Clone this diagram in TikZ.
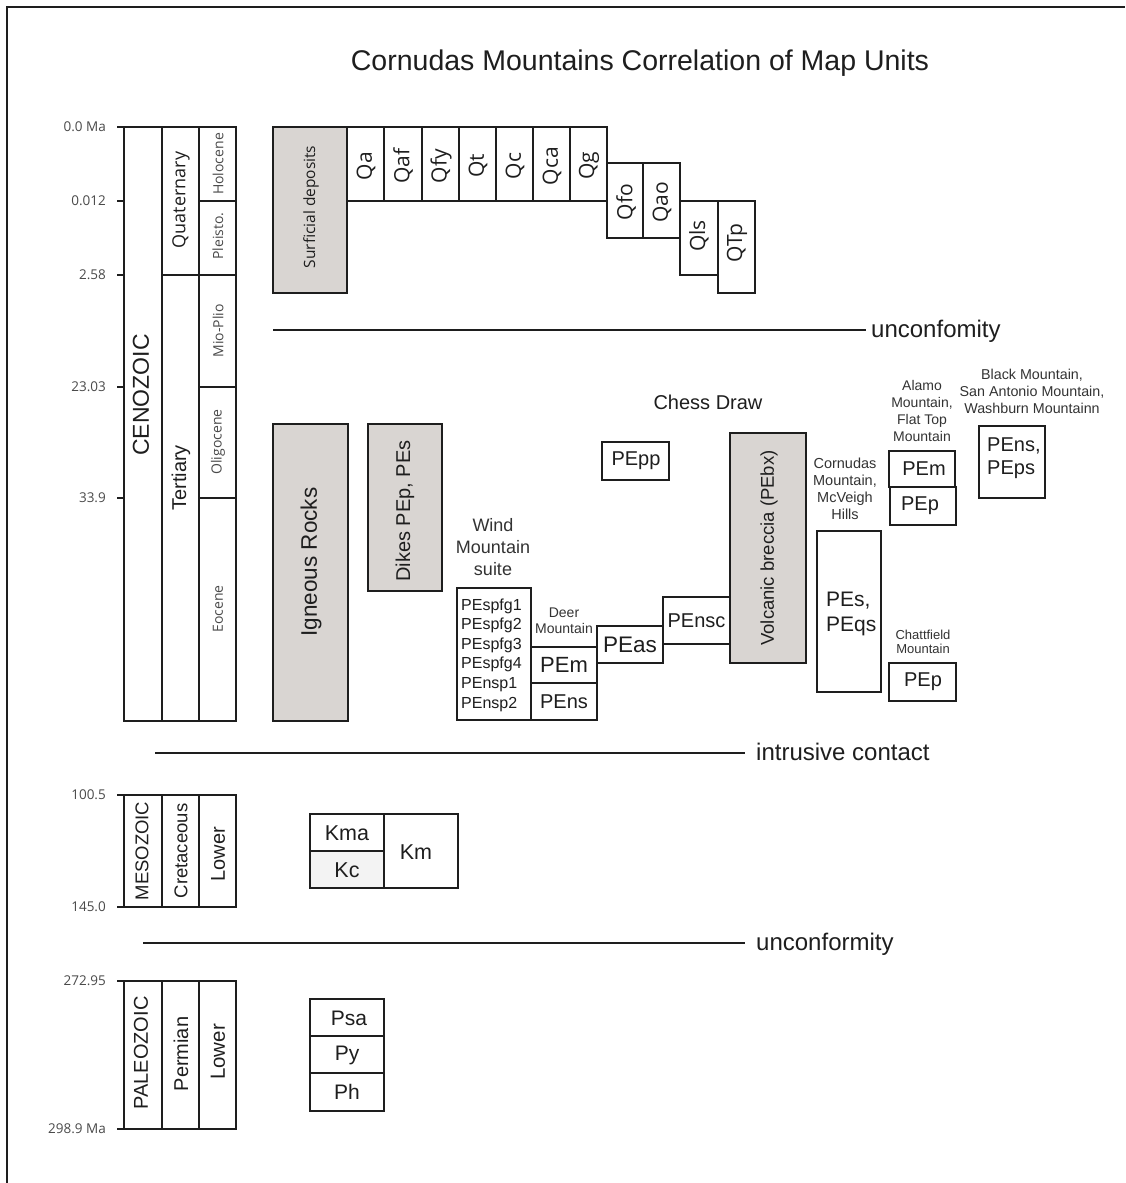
\documentclass[tikz,border=0pt]{standalone}
\usepackage{fontspec}
\setmainfont{Liberation Sans}
\newfontfamily\myr{Open Sans}
\definecolor{gfill}{HTML}{D9D5D2}
\definecolor{kcfill}{HTML}{F3F3F3}
\definecolor{tgray}{HTML}{4A4A4A}
\definecolor{ink}{HTML}{1E1E1E}
\newcommand\fz[2]{\fontsize{#1}{#2}\selectfont}
\begin{document}
\begin{tikzpicture}[x=1pt,y=-1pt,
  box/.style={draw=ink, line width=1.8pt},
  gbox/.style={box, fill=gfill},
  kbox/.style={box, fill=kcfill},
  lbl/.style={inner sep=0pt, text=ink},
  rl/.style={lbl, rotate=90},
  tick/.style={draw=ink, line width=1.5pt},
  tlab/.style={inner sep=0pt, anchor=east, text=tgray, font={\myr\fz{13.5}{16}}},
  ep/.style={rl, text=tgray, font={\myr\fz{14}{17}}},
  ql/.style={rl, font={\myr\fz{21}{25}}},
  pe/.style={lbl, font={\fz{20}{24}}},
  sm/.style={lbl, align=center, text=black!80},
  sep/.style={draw=ink, line width=1.7pt},
  seplab/.style={inner sep=0pt, anchor=base west, text=ink, font={\fz{24}{28}}}
]
\useasboundingbox (0,0) rectangle (1125,1183);
\fill[white] (0,0) rectangle (1125,1183);
% frame
\draw[draw=ink, line width=2pt] (7,1183) -- (7,7) -- (1125,7);
% title
\node[lbl, anchor=base, font={\fz{28.5}{32}}] (title) at (640,70) {Cornudas Mountains Correlation of Map Units};

% ---------- Cenozoic time column ----------
\draw[box] (124,127) rectangle (236,721);
\draw[box] (162,127) -- (162,721);
\draw[box] (199,127) -- (199,721);
\draw[box] (162,275) -- (236,275);
\draw[box] (199,201) -- (236,201);
\draw[box] (199,387) -- (236,387);
\draw[box] (199,498) -- (236,498);
\foreach \yy in {127,201,275,387,498} \draw[tick] (117,\yy) -- (124,\yy);
\node[tlab] (t0) at (106,127) {0.0 Ma};
\node[tlab] (t1) at (106,201) {0.012};
\node[tlab] (t2) at (106,275) {2.58};
\node[tlab] (t3) at (106,387) {23.03};
\node[tlab] (t4) at (106,498) {33.9};
\node[rl, font={\fz{23}{27}}] (ceno) at (141,395) {CENOZOIC};
\node[rl, font={\fz{20}{24}}] (tert) at (181,478) {Tertiary};
\node[rl, font={\myr\fz{18}{22}}] (quat) at (181,200) {Quaternary};
\node[ep] (holo) at (218,164) {Holocene};
\node[ep] (plei) at (218,236) {Pleisto.};
\node[ep] (miop) at (218,331) {Mio-Plio};
\node[ep] (olig) at (218,442) {Oligocene};
\node[ep] (eoc) at (218,609) {Eocene};

% ---------- Surficial deposits ----------
\draw[gbox] (273,127) rectangle (347,293);
\node[rl, font={\myr\fz{15.5}{19}}] (surf) at (311,207) {Surficial deposits};
\draw[box] (347,127) rectangle (384,201); \node[ql] (qa) at (366,166) {Qa};
\draw[box] (384,127) rectangle (422,201); \node[ql] (qaf) at (403,166) {Qaf};
\draw[box] (422,127) rectangle (459,201); \node[ql] (qfy) at (441,166) {Qfy};
\draw[box] (459,127) rectangle (496,201); \node[ql] (qt) at (478,166) {Qt};
\draw[box] (496,127) rectangle (533,201); \node[ql] (qc) at (515,166) {Qc};
\draw[box] (533,127) rectangle (570,201); \node[ql] (qca) at (552,166) {Qca};
\draw[box] (570,127) rectangle (607,201); \node[ql] (qg) at (589,166) {Qg};
\draw[box] (607,163) rectangle (643,238); \node[ql] (qfo) at (626,202) {Qfo};
\draw[box] (643,163) rectangle (680,238); \node[ql] (qao) at (662,202) {Qao};
\draw[box] (680,201) rectangle (718,275); \node[ql] (qls) at (699,236) {Qls};
\draw[box] (718,201) rectangle (755,293); \node[ql] (qtp) at (737,243) {QTp};

% unconformity 1
\coordinate (u1a) at (273,330);
\coordinate (u1b) at (866,330);
\draw[sep] (u1a) -- (u1b);
\node[seplab] (u1) at (871,337) {unconfomity};

% ---------- Igneous ----------
\draw[gbox] (273,424) rectangle (348,721);
\node[rl, font={\fz{22.5}{26}}] (ign) at (311,562) {Igneous Rocks};
\draw[gbox] (368,424) rectangle (442,591);
\node[rl, font={\fz{20}{24}}] (dikes) at (405,511) {Dikes PEp, PEs};

\node[sm, font={\fz{18}{22}}] (wind) at (493,547) {Wind\\Mountain\\suite};
\draw[box] (457,588) rectangle (531,720);
\node[lbl, anchor=west, align=left, font={\fz{16}{19.6}}] (wlist) at (461,655) {PEspfg1\\PEspfg2\\PEspfg3\\PEspfg4\\PEnsp1\\PEnsp2};

\node[sm, font={\fz{14}{16}}] (deer) at (564,621) {Deer\\Mountain};
\draw[box] (531,647) rectangle (597,683); \node[pe, font={\fz{22}{26}}] (pem1) at (564,665) {PEm};
\draw[box] (531,683) rectangle (597,720); \node[pe] (pens1) at (564,702) {PEns};
\draw[box] (597,626) rectangle (663,663); \node[pe, font={\fz{22.5}{26}}] (peas) at (630,645) {PEas};
\draw[box] (663,597) rectangle (730,644); \node[pe] (pensc) at (696.5,621) {PEnsc};
\draw[gbox] (730,433) rectangle (806,663);
\node[rl, font={\fz{18.5}{22}}] (volc) at (769,548) {Volcanic breccia (PEbx)};

\node[lbl, font={\fz{20}{24}}] (chess) at (708,402) {Chess Draw};
\draw[box] (602,442) rectangle (669,480); \node[pe] (pepp) at (636,461) {PEpp};

\node[sm, font={\fz{14.5}{17}}] (corn) at (845,489) {Cornudas\\Mountain,\\McVeigh\\Hills};
\draw[box] (817,531) rectangle (881,692);
\node[lbl, anchor=west, align=left, font={\fz{21}{25}}] (pes) at (826,614) {PEs,\\PEqs};

\node[sm, font={\fz{14}{17.3}}] (alamo) at (922,411) {Alamo\\Mountain,\\Flat Top\\Mountain};
\draw[box] (889,451) rectangle (955,487); \node[pe] (pem2) at (924,469) {PEm};
\draw[box] (890,487) rectangle (956,525); \node[pe] (pep1) at (920,506) {PEp};

\node[sm, font={\fz{14.3}{17}}] (black) at (1032,391) {Black Mountain,\\San Antonio Mountain,\\Washburn Mountainn};
\draw[box] (979,426) rectangle (1045,498);
\node[lbl, anchor=west, align=left, font={\fz{20}{23}}] (pens2) at (987,458) {PEns,\\PEps};

\node[sm, font={\fz{13}{14.5}}] (chatt) at (923,642) {Chattfield\\Mountain};
\draw[box] (889,663) rectangle (956,701); \node[pe] (pep2) at (923,682) {PEp};

% intrusive contact
\coordinate (ica) at (155,753);
\coordinate (icb) at (745,753);
\draw[sep] (ica) -- (icb);
\node[seplab] (ic) at (756,760) {intrusive contact};

% ---------- Mesozoic ----------
\draw[box] (124,795) rectangle (236,907);
\draw[box] (162,795) -- (162,907);
\draw[box] (199,795) -- (199,907);
\foreach \yy in {795,907} \draw[tick] (117,\yy) -- (124,\yy);
\node[tlab] (t5) at (106,795) {100.5};
\node[tlab] (t6) at (106,907) {145.0};
\node[rl, font={\fz{18.5}{22}}] (meso) at (142,851) {MESOZOIC};
\node[rl, font={\fz{18.5}{22}}] (cret) at (181,851) {Cretaceous};
\node[rl, font={\fz{20}{24}}] (low1) at (218,854) {Lower};
\draw[box] (310,814) rectangle (384,851); \node[pe, font={\fz{21.5}{25}}] (kma) at (347,833) {Kma};
\draw[kbox] (310,851) rectangle (384,888); \node[pe, font={\fz{21.5}{25}}] (kc) at (347,870) {Kc};
\draw[box] (384,814) rectangle (458,888); \node[pe, font={\fz{21.5}{25}}] (km) at (416,852) {Km};

% unconformity 2
\coordinate (u2a) at (143,943);
\coordinate (u2b) at (745,943);
\draw[sep] (u2a) -- (u2b);
\node[seplab] (u2) at (756,950) {unconformity};

% ---------- Paleozoic ----------
\draw[box] (124,981) rectangle (236,1129);
\draw[box] (162,981) -- (162,1129);
\draw[box] (199,981) -- (199,1129);
\foreach \yy in {981,1129} \draw[tick] (117,\yy) -- (124,\yy);
\node[tlab] (t7) at (106,981) {272.95};
\node[tlab] (t8) at (106,1129) {298.9 Ma};
\node[rl, font={\fz{20}{24}}] (paleo) at (141,1053) {PALEOZOIC};
\node[rl, font={\fz{20}{24}}] (perm) at (181,1054) {Permian};
\node[rl, font={\fz{20.5}{24}}] (low2) at (218,1052) {Lower};
\draw[box] (310,999) rectangle (384,1036); \node[pe, font={\fz{21}{25}}] (psa) at (349,1018) {Psa};
\draw[box] (310,1036) rectangle (384,1073); \node[pe, font={\fz{21}{25}}] (py) at (347,1055) {Py};
\draw[box] (310,1073) rectangle (384,1111); \node[pe, font={\fz{21}{25}}] (ph) at (347,1092) {Ph};
\end{tikzpicture}
\end{document}
